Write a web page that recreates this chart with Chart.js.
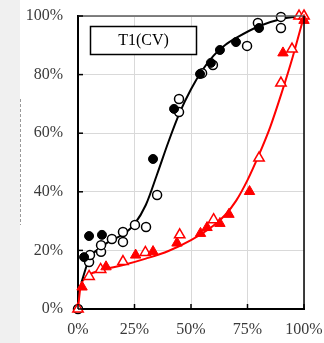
<!DOCTYPE html>
<html>
<head>
<meta charset="utf-8">
<script src="https://cdn.jsdelivr.net/npm/chart.js@4.4.1/dist/chart.umd.min.js"></script>
<style>
  html, body { margin: 0; padding: 0; background: #fff; }
  #wrap { width: 324px; height: 343px; position: relative; }
</style>
</head>
<body>
<div id="wrap"><canvas id="grafica"></canvas></div>
<script>
// valores (porcentajes)
const legendTitle = 'T1(CV)';
const xTicks = [0, 25, 50, 75, 100];
const yTicks = [0, 20, 40, 60, 80, 100];

// circulos negros rellenos
const blackFilledX = [2.7, 4.9, 10.6, 33.2, 42.5, 54, 58.8, 62.8, 69.9, 80.1];
const blackFilledY = [17.7, 24.9, 25.3, 51.2, 68.3, 80.2, 84, 88.4, 91.1, 95.9];

// circulos negros vacios
const blackOpenX = [0, 4.9, 5.3, 10.2, 10.2, 15, 19.9, 19.9, 25.2, 30.1, 35, 44.7, 44.7, 54.9, 59.7, 74.8, 79.6, 89.8, 89.8];
const blackOpenY = [0, 16, 18.4, 19.5, 21.8, 23.9, 22.9, 26.3, 28.7, 28, 38.9, 67.2, 71.7, 80.5, 83.3, 89.8, 97.6, 95.9, 99.7];

// curva negra
const blackCurveX = [1.5, 5, 10, 15, 20, 25, 30, 35, 40, 45, 50, 55, 60, 65, 70, 80, 90, 100];
const blackCurveY = [9, 17.2, 21, 23.5, 25.5, 29, 35.5, 46, 57, 67, 75, 81.5, 86.5, 90, 92.5, 96.5, 99, 100];

// triangulos rojos rellenos
const redFilledX = [1.8, 12.4, 25.5, 33.2, 43.8, 54.2, 57.1, 62.8, 66.8, 75.9, 90.7, 100];
const redFilledY = [7.5, 14.4, 18.4, 19.6, 22.5, 25.8, 27.8, 29.2, 32.3, 40.1, 87.4, 98.5];

// triangulos rojos vacios
const redOpenX = [0, 4.9, 10, 19.9, 29.8, 45, 60, 80.1, 89.8, 94.7, 97.8, 100];
const redOpenY = [0, 11.1, 13.5, 16.2, 19.3, 25.3, 30.5, 51.5, 77.1, 88.7, 100, 100];

// curva roja
const redCurveX = [0, 1, 3, 5, 10, 20, 30, 40, 50, 60, 65, 70, 75, 80, 85, 90, 95, 100];
const redCurveY = [0, 7, 10.5, 11.8, 13.2, 15, 17.2, 19.8, 23.5, 28.5, 32, 37, 44, 52.5, 62, 73.5, 86, 100];

const toPoints = (xs, ys) => xs.map((x, i) => ({ x: x, y: ys[i] }));

const fondo = {
    id: 'fondo',
    beforeDraw(chart) {
        const c = chart.ctx;
        c.save();
        c.fillStyle = '#fff';
        c.fillRect(0, 0, chart.width, chart.height);
        c.fillStyle = '#f0f0f0';
        c.fillRect(0, 0, 20, chart.height);
        c.strokeStyle = '#9a9a9a';
        c.lineWidth = 1;
        c.setLineDash([3, 2]);
        c.beginPath();
        c.moveTo(20.5, 99);
        c.lineTo(20.5, 225);
        c.stroke();
        c.restore();
    },
    afterDraw(chart) {
        const c = chart.ctx;
        const a = chart.chartArea;
        const sx = chart.scales.x, sy = chart.scales.y;
        c.save();
        // borde superior y derecho
        c.strokeStyle = '#595959';
        c.lineWidth = 1.5;
        c.beginPath();
        c.moveTo(a.left, a.top);
        c.lineTo(a.right, a.top);
        c.stroke();
        c.strokeStyle = '#000';
        c.beginPath();
        c.moveTo(a.right, a.top);
        c.lineTo(a.right, a.bottom);
        c.stroke();
        // marcas hacia dentro
        c.lineWidth = 1.5;
        xTicks.forEach(v => {
            const px = sx.getPixelForValue(v);
            c.beginPath();
            c.moveTo(px, a.bottom);
            c.lineTo(px, a.bottom - 5);
            c.stroke();
        });
        yTicks.forEach(v => {
            const py = sy.getPixelForValue(v);
            c.beginPath();
            c.moveTo(a.left, py);
            c.lineTo(a.left + 5, py);
            c.stroke();
        });
        // caja de la leyenda
        c.fillStyle = '#fff';
        c.fillRect(90, 26, 106, 28);
        c.strokeStyle = '#000';
        c.lineWidth = 1.5;
        c.strokeRect(90.5, 26.5, 106, 28);
        c.fillStyle = '#000';
        c.font = '16px "Liberation Serif"';
        c.textAlign = 'center';
        c.textBaseline = 'middle';
        c.fillText(legendTitle, 143.5, 41);
        c.restore();
    }
};

const ctx = document.getElementById('grafica').getContext('2d');

const grafica = new Chart(ctx, {
    type: 'scatter',
    data: {
        datasets: [
            {
                data: toPoints(blackCurveX, blackCurveY),
                showLine: true,
                borderColor: '#000',
                borderWidth: 2,
                pointRadius: 0,
                cubicInterpolationMode: 'monotone',
                order: 10
            },
            {
                data: toPoints(redCurveX, redCurveY),
                showLine: true,
                borderColor: '#ff0000',
                borderWidth: 2,
                pointRadius: 0,
                cubicInterpolationMode: 'monotone',
                order: 10
            },
            {
                data: toPoints(blackOpenX, blackOpenY),
                pointStyle: 'circle',
                pointRadius: 4.5,
                backgroundColor: '#fff',
                borderColor: '#000',
                borderWidth: 1.5,
                order: 3
            },
            {
                data: toPoints(blackFilledX, blackFilledY),
                pointStyle: 'circle',
                pointRadius: 4.5,
                backgroundColor: '#000',
                borderColor: '#000',
                borderWidth: 1,
                order: 2
            },
            {
                data: toPoints(redOpenX, redOpenY),
                pointStyle: 'triangle',
                pointRadius: 6,
                backgroundColor: '#fff',
                borderColor: '#ff0000',
                borderWidth: 1.5,
                order: 1
            },
            {
                data: toPoints(redFilledX, redFilledY),
                pointStyle: 'triangle',
                pointRadius: 6,
                backgroundColor: '#ff0000',
                borderColor: '#ff0000',
                borderWidth: 1,
                order: 0
            }
        ]
    },
    options: {
        responsive: true,
        maintainAspectRatio: false,
        animation: false,
        clip: false,
        layout: { padding: { top: 16, right: 20, bottom: 0, left: 0 } },
        plugins: { legend: { display: false }, tooltip: { enabled: false } },
        scales: {
            x: {
                type: 'linear',
                min: 0,
                max: 100,
                afterBuildTicks: s => { s.ticks = xTicks.map(v => ({ value: v })); },
                afterFit: s => { s.height = 34; s.paddingLeft = 0; s.paddingRight = 0; },
                grid: { color: '#d9d9d9', lineWidth: 1, drawTicks: false },
                border: { color: '#000', width: 2 },
                ticks: {
                    padding: 11,
                    color: '#3a3a3a',
                    font: { family: '"Liberation Serif"', size: 16 },
                    callback: v => v + '%',
                    maxRotation: 0
                }
            },
            y: {
                type: 'linear',
                min: 0,
                max: 100,
                afterBuildTicks: s => { s.ticks = yTicks.map(v => ({ value: v })); },
                afterFit: s => { s.width = 78; s.paddingTop = 0; s.paddingBottom = 0; },
                grid: { color: '#d9d9d9', lineWidth: 1, drawTicks: false },
                border: { color: '#000', width: 2 },
                ticks: {
                    padding: 15,
                    color: '#3a3a3a',
                    font: { family: '"Liberation Serif"', size: 16 },
                    callback: v => v + '%'
                }
            }
        }
    },
    plugins: [fondo]
});
</script>
</body>
</html>
